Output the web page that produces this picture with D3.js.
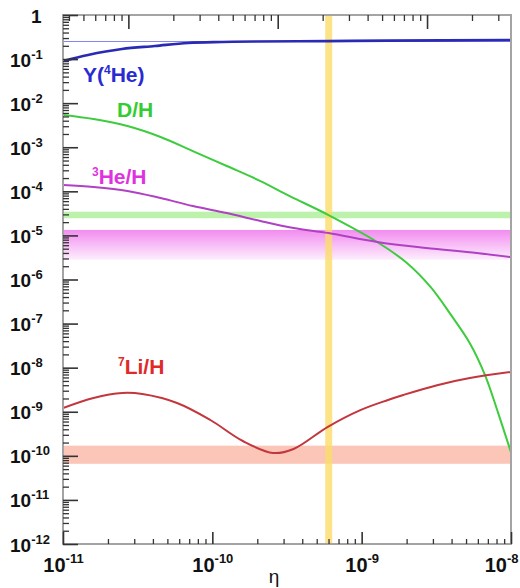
<!DOCTYPE html>
<html><head><meta charset="utf-8">
<script src="https://cdn.jsdelivr.net/npm/d3@7"></script>
<style>
body{margin:0;background:#fff}
svg{display:block}
text{font-family:"Liberation Sans",Arial,Helvetica,sans-serif;font-weight:bold}
</style>
</head><body>
<svg id="chart" width="520" height="588"></svg>
<script>
// ---------- data ----------
const etaDomain = [1e-11, 1e-8];
const valueDomain = [1e-12, 1];
const omegaPerEta = 1 / 2.74e-8;   // top axis: Omega_b h^2

const etaY  = [1e-11, 1.47e-11, 2.48e-11, 4.13e-11, 6.87e-11, 1.16e-10, 1.93e-10, 5.9e-10, 1.5e-9, 1e-8];
const valY  = [0.090, 0.124, 0.169, 0.198, 0.232, 0.244, 0.250, 0.256, 0.262, 0.270];
const obsY  = 0.248;

const etaD  = [1e-11, 1.6e-11, 2.7e-11, 4.5e-11, 7.4e-11, 1.25e-10, 2.1e-10, 3.3e-10, 6e-10, 1.27e-9, 2e-9, 2.9e-9, 3.9e-9, 5.3e-9, 6.7e-9, 8.2e-9, 1e-8];
const valD  = [5.4e-3, 4.37e-3, 3.03e-3, 1.71e-3, 8.2e-4, 3.75e-4, 1.71e-4, 7.8e-5, 2.9e-5, 7.1e-6, 2.4e-6, 6.7e-7, 1.7e-7, 3.6e-8, 6.8e-9, 9.4e-10, 1.2e-10];

const etaHe3 = [1e-11, 1.6e-11, 2.7e-11, 4.5e-11, 7.4e-11, 1.25e-10, 2.1e-10, 3.5e-10, 6e-10, 1.27e-9, 2.7e-9, 5.9e-9, 1e-8];
const valHe3 = [1.39e-4, 1.25e-4, 1.02e-4, 7.05e-5, 4.64e-5, 3.22e-5, 2.12e-5, 1.47e-5, 1.13e-5, 7.1e-6, 5.2e-6, 4.0e-6, 3.2e-6];

const etaLi = [1e-11, 1.6e-11, 2.5e-11, 3.4e-11, 5.8e-11, 9.7e-11, 1.6e-10, 2.55e-10, 3.5e-10, 5.9e-10, 9.8e-10, 1.5e-9, 1.9e-9, 3.2e-9, 5.3e-9, 1e-8];
const valLi = [1.21e-9, 2.05e-9, 2.66e-9, 2.52e-9, 1.58e-9, 6.5e-10, 2.17e-10, 1.16e-10, 1.43e-10, 4.5e-10, 1.09e-9, 1.85e-9, 2.4e-9, 4.0e-9, 5.8e-9, 8.0e-9];

const bandD   = [2.45e-5, 3.45e-5];
const bandHe3 = [2.8e-6, 1.33e-5];
const bandLi  = [6.6e-11, 1.7e-10];
const bandEta = [5.7e-10, 6.35e-10];

const labelY   = ["Y(", "4", "He)"];
const labelD   = ["D/H"];
const labelHe3 = ["3", "He/H"];
const labelLi  = ["7", "Li/H"];
const xTitle = "η";

// ---------- layout ----------
const W = 520, H = 588, L = 63, R = 511, T = 15, B = 544;
const svg = d3.select("#chart");
svg.append("rect").attr("width", W).attr("height", H).attr("fill", "#fff");

const x = d3.scaleLog().domain(etaDomain).range([L, R]);
const y = d3.scaleLog().domain(valueDomain).range([B, T]);
const xo = d3.scaleLog().domain(etaDomain.map(e => e * omegaPerEta)).range([L, R]);

const defs = svg.append("defs");
const grad = defs.append("linearGradient").attr("id", "magGrad")
  .attr("x1", 0).attr("y1", 0).attr("x2", 0).attr("y2", 1);
grad.append("stop").attr("offset", "0%").attr("stop-color", "#f28cf0");
grad.append("stop").attr("offset", "100%").attr("stop-color", "#fdeefd");
defs.append("clipPath").attr("id", "plotClip").append("rect")
  .attr("x", L).attr("y", T).attr("width", R - L).attr("height", B - T);

// horizontal bands
function hband(b, fill) {
  svg.append("rect").attr("x", L).attr("width", R - L)
    .attr("y", y(b[1])).attr("height", y(b[0]) - y(b[1])).attr("fill", fill);
}
hband(bandD, "#bdf2ad");
hband(bandHe3, "url(#magGrad)");
hband(bandLi, "#fbc6b8");

// vertical eta band
svg.append("rect").attr("x", x(bandEta[0])).attr("width", x(bandEta[1]) - x(bandEta[0]))
  .attr("y", T).attr("height", B - T).attr("fill", "#fbdc6a").attr("opacity", 0.8);

// observed Y line
svg.append("line").attr("x1", L).attr("x2", R).attr("y1", y(obsY)).attr("y2", y(obsY))
  .attr("stroke", "#8686f0").attr("stroke-width", 1.5).attr("shape-rendering", "crispEdges");

// curves
const line = d3.line().x(d => x(d[0])).y(d => y(d[1])).curve(d3.curveCatmullRom.alpha(0.5));
const cg = svg.append("g").attr("clip-path", "url(#plotClip)");
function curve(etas, vals, color, w) {
  cg.append("path").datum(d3.zip(etas, vals)).attr("d", line)
    .attr("fill", "none").attr("stroke", color).attr("stroke-width", w)
    .attr("stroke-linejoin", "round");
}
curve(etaY, valY, "#2a2ab4", 2.6);
curve(etaD, valD, "#3dcc3d", 2);
curve(etaHe3, valHe3, "#b040c4", 2);
curve(etaLi, valLi, "#c3363e", 2);

// frame
svg.append("rect").attr("x", L).attr("y", T).attr("width", R - L).attr("height", B - T)
  .attr("fill", "none").attr("stroke", "#a4a4a4").attr("stroke-width", 2);

// axes
const isDecade = d => Math.abs(Math.log10(d) - Math.round(Math.log10(d))) < 1e-6;
const xTicks = x.ticks(20), yTicks = y.ticks(20), oTicks = xo.ticks(20);

function styleTicks(g, w) {
  g.select(".domain").remove();
  g.selectAll(".tick line").attr("stroke", "#333").attr("stroke-width", w);
}
function supLabel(sel, size, supSize, supDy) {
  sel.each(function(d) {
    const e = Math.round(Math.log10(d));
    const t = d3.select(this).text(null).attr("fill", "#111").attr("font-size", size);
    if (e === 0) { t.text("1"); return; }
    t.append("tspan").text("10");
    t.append("tspan").attr("dy", supDy).attr("font-size", supSize).text(String(e));
  });
}

// bottom
const gbMinor = svg.append("g").attr("transform", `translate(0,${B})`)
  .call(d3.axisBottom(x).tickValues(xTicks.filter(d => !isDecade(d))).tickSizeInner(-5).tickSizeOuter(0).tickFormat(""));
styleTicks(gbMinor, 1.3);
const gbMajor = svg.append("g").attr("transform", `translate(0,${B})`)
  .call(d3.axisBottom(x).tickValues(xTicks.filter(isDecade)).tickSizeInner(-12).tickSizeOuter(0));
styleTicks(gbMajor, 1.6);
gbMajor.selectAll(".tick text").attr("y", 28).attr("dy", 0)
  .attr("text-anchor", (d, i, n) => i === n.length - 1 ? "end" : "middle")
  .attr("x", (d, i, n) => i === n.length - 1 ? 518 - R : 0)
  .call(supLabel, 20, 13, -9);

// top (Omega_b h^2)
const gtMinor = svg.append("g").attr("transform", `translate(0,${T})`)
  .call(d3.axisTop(xo).tickValues(oTicks.filter(d => !isDecade(d))).tickSizeInner(-6).tickSizeOuter(0).tickFormat(""));
styleTicks(gtMinor, 1.3);
const gtMajor = svg.append("g").attr("transform", `translate(0,${T})`)
  .call(d3.axisTop(xo).tickValues(oTicks.filter(isDecade)).tickSizeInner(-14).tickSizeOuter(0).tickFormat(""));
styleTicks(gtMajor, 1.6);

// left
const glMinor = svg.append("g").attr("transform", `translate(${L},0)`)
  .call(d3.axisLeft(y).tickValues(yTicks.filter(d => !isDecade(d))).tickSizeInner(-6).tickSizeOuter(0).tickFormat(""));
styleTicks(glMinor, 1.3);
const glMajor = svg.append("g").attr("transform", `translate(${L},0)`)
  .call(d3.axisLeft(y).tickValues(yTicks.filter(isDecade)).tickSizeInner(-15).tickSizeOuter(0));
styleTicks(glMajor, 1.6);
glMajor.selectAll(".tick text").attr("text-anchor", "start").attr("dy", 7)
  .attr("x", d => (Math.round(Math.log10(d)) === 0 ? 31 : 10) - L)
  .call(supLabel, 19, 13, -8);

// x title
svg.append("text").attr("x", 274).attr("y", 583).attr("text-anchor", "middle")
  .attr("font-size", 19).attr("fill", "#111").style("font-weight", "normal").text(xTitle);

// curve labels
function label(parts, supIdx, px, py, color) {
  const t = svg.append("text").attr("x", px).attr("y", py).attr("fill", color).attr("font-size", 21);
  parts.forEach((p, i) => {
    const ts = t.append("tspan").text(p);
    if (i === supIdx) ts.attr("dy", -8).attr("font-size", 12);
    else if (i === supIdx + 1 && i > 0) ts.attr("dy", 8);
  });
}
label(labelY, 1, 83, 82, "#2a2ad2");
label(labelD, -1, 117, 117, "#33cc33");
label(labelHe3, 0, 92, 184, "#e033e0");
label(labelLi, 0, 118, 374, "#e02a2a");
</script>
</body></html>
